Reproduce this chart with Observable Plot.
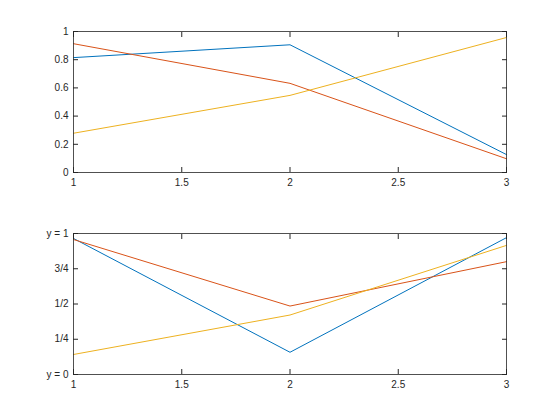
<!DOCTYPE html>
<html>
<head>
<meta charset="utf-8">
<script src="https://cdn.jsdelivr.net/npm/d3@7"></script>
<script src="https://cdn.jsdelivr.net/npm/@observablehq/plot@0.6"></script>
<style>
  html, body { margin: 0; padding: 0; background: #fff; }
  #fig { width: 560px; height: 420px; }
  #fig svg { display: block; }
</style>
</head>
<body>
<div id="fig"></div>
<script>
// x positions
const xs = [1, 2, 3];
// top subplot series
const top1 = [0.8147, 0.9058, 0.1270];
const top2 = [0.9134, 0.6324, 0.0975];
const top3 = [0.2785, 0.5469, 0.9575];
// bottom subplot series
const bot1 = [0.9649, 0.1576, 0.9706];
const bot2 = [0.9572, 0.4854, 0.8003];
const bot3 = [0.1419, 0.4218, 0.9157];
// ticks
const xTicks = [1, 1.5, 2, 2.5, 3];
const xTickLabels = ["1", "1.5", "2", "2.5", "3"];
const yTicksTop = [0, 0.2, 0.4, 0.6, 0.8, 1];
const yTickLabelsTop = ["0", "0.2", "0.4", "0.6", "0.8", "1"];
const yTicksBot = [0, 0.25, 0.5, 0.75, 1];
const yTickLabelsBot = ["y = 0", "1/4", "1/2", "3/4", "y = 1"];
// series names and colors
const seriesNames = ["s1", "s2", "s3"];
const seriesColors = ["#0072BD", "#D95319", "#EDB120"];

function toRows(arrs) {
  const rows = [];
  arrs.forEach((arr, s) => arr.forEach((v, i) => rows.push({x: xs[i], y: v, s: seriesNames[s]})));
  return rows;
}

const ink = "#262626";

function subplot(rows, yTicks, yLabels, marginTop, marginBottom) {
  return Plot.plot({
    width: 560,
    height: 210,
    marginLeft: 73,
    marginRight: 54,
    marginTop,
    marginBottom,
    style: {fontFamily: "'Liberation Sans', Arial, sans-serif", fontSize: "10px", color: ink, background: "#fff"},
    x: {domain: [1, 3]},
    y: {domain: [0, 1]},
    color: {domain: seriesNames, range: seriesColors},
    marks: [
      Plot.line(rows, {x: "x", y: "y", z: "s", stroke: "s", strokeWidth: 1}),
      Plot.frame({stroke: ink, strokeWidth: 0.8}),
      Plot.axisX({ticks: xTicks, tickFormat: (d) => xTickLabels[xTicks.indexOf(d)], tickSize: -5, tickPadding: 11, label: null, stroke: ink, fill: ink}),
      Plot.axisX({anchor: "top", ticks: xTicks, tickFormat: () => "", tickSize: -5, label: null, stroke: ink}),
      Plot.axisY({ticks: yTicks, tickFormat: (d) => yLabels[yTicks.indexOf(d)], tickSize: -5, tickPadding: 10, label: null, stroke: ink, fill: ink}),
      Plot.axisY({anchor: "right", ticks: yTicks, tickFormat: () => "", tickSize: -5, label: null, stroke: ink})
    ]
  });
}

const fig = document.getElementById("fig");
fig.append(subplot(toRows([top1, top2, top3]), yTicksTop, yTickLabelsTop, 31, 38));
fig.append(subplot(toRows([bot1, bot2, bot3]), yTicksBot, yTickLabelsBot, 23, 46));
</script>
</body>
</html>
